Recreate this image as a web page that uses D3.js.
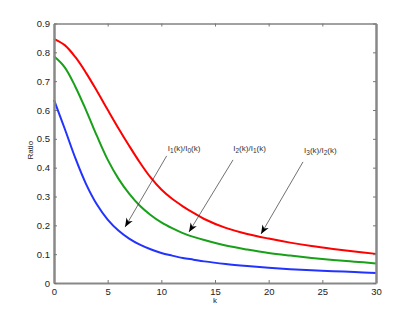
<!DOCTYPE html>
<html>
<head>
<meta charset="utf-8">
<script src="https://cdn.jsdelivr.net/npm/d3@7"></script>
<style>
  body { margin: 0; background: #fff; }
  text { font-family: "Liberation Sans", Arial, sans-serif; }
</style>
</head>
<body>
<div id="chart"></div>
<script>
const MARGIN = { TOP: 23.5, RIGHT: 39, BOTTOM: 36, LEFT: 54 };
const WIDTH = 415;
const HEIGHT = 319;

// values
var kValues = [0, 1, 2, 3, 4, 5, 6, 7, 8, 9, 10, 11, 12, 13, 14, 16, 18, 20, 22, 24, 26, 28, 30];
var ratio10 = [0.635, 0.535, 0.432, 0.342, 0.272, 0.220, 0.182, 0.154, 0.133, 0.117, 0.104, 0.095, 0.087, 0.081, 0.075, 0.066, 0.059, 0.053, 0.048, 0.044, 0.041, 0.038, 0.035];
var ratio21 = [0.786, 0.748, 0.680, 0.598, 0.510, 0.428, 0.362, 0.310, 0.268, 0.236, 0.210, 0.190, 0.173, 0.160, 0.149, 0.130, 0.116, 0.104, 0.095, 0.087, 0.080, 0.074, 0.068];
var ratio32 = [0.847, 0.825, 0.783, 0.728, 0.666, 0.601, 0.537, 0.476, 0.418, 0.366, 0.324, 0.292, 0.266, 0.243, 0.222, 0.191, 0.170, 0.154, 0.140, 0.128, 0.118, 0.109, 0.101];

var xTicks = [0, 5, 10, 15, 20, 25, 30];
var yTicks = [0, 0.1, 0.2, 0.3, 0.4, 0.5, 0.6, 0.7, 0.8, 0.9];

// annotations, in data units: text position and arrow from / to
var notes = [
  { num: "1", den: "0", tx: 10.6, ty: 0.458, x0: 10.5, y0: 0.441, x1: 6.62, y1: 0.194 },
  { num: "2", den: "1", tx: 16.7, ty: 0.458, x0: 16.68, y0: 0.427, x1: 12.58, y1: 0.177 },
  { num: "3", den: "2", tx: 23.3, ty: 0.451, x0: 23.2, y0: 0.420, x1: 19.29, y1: 0.170 }
];

var svg = d3.select("div#chart").append("svg")
    .attr("width", WIDTH)
    .attr("height", HEIGHT);

var x = d3.scaleLinear([0, 30], [MARGIN.LEFT, WIDTH - MARGIN.RIGHT]);
var y = d3.scaleLinear([0, 0.9], [HEIGHT - MARGIN.BOTTOM, MARGIN.TOP]);

svg.append("defs").append("marker")
    .attr("id", "head")
    .attr("viewBox", "0 0 10 10")
    .attr("refX", 10).attr("refY", 5)
    .attr("markerWidth", 9).attr("markerHeight", 9)
    .attr("markerUnits", "userSpaceOnUse")
    .attr("orient", "auto")
  .append("path")
    .attr("d", "M0,1 L10,5 L0,9 L3,5 Z")
    .attr("fill", "#000");

// curves
const lineFunc = d3.line()
    .x(d => x(d[0]))
    .y(d => y(d[1]))
    .curve(d3.curveCatmullRom.alpha(0.5));

var series = [
  { name: "r10", values: ratio10, color: "#2233ff" },
  { name: "r21", values: ratio21, color: "#18a018" },
  { name: "r32", values: ratio32, color: "#ff0000" }
];

svg.append("g")
    .attr("fill", "none")
    .attr("stroke-width", 2)
  .selectAll("path")
  .data(series)
  .join("path")
    .attr("stroke", d => d.color)
    .attr("d", d => lineFunc(kValues.map((k, i) => [k, d.values[i]])));

// axes, MATLAB style box with inward ticks
function styleAxis(g, color, width) {
  g.select(".domain").attr("stroke", color).attr("stroke-width", width);
  g.selectAll(".tick line").attr("stroke", "#777");
  g.selectAll(".tick text").attr("fill", "#222").style("font-size", "9.5px");
}

svg.append("g")
    .attr("transform", `translate(0,${HEIGHT - MARGIN.BOTTOM})`)
    .call(d3.axisBottom(x).tickValues(xTicks).tickSizeInner(-3).tickSizeOuter(0).tickPadding(5))
    .call(g => styleAxis(g, "#888", 2));

svg.append("g")
    .attr("transform", `translate(0,${MARGIN.TOP})`)
    .call(d3.axisTop(x).tickValues(xTicks).tickSizeInner(-3).tickSizeOuter(0).tickFormat(""))
    .call(g => styleAxis(g, "#444", 1));

svg.append("g")
    .attr("transform", `translate(${MARGIN.LEFT},0)`)
    .call(d3.axisLeft(y).tickValues(yTicks).tickSizeInner(-3).tickSizeOuter(0).tickPadding(4).tickFormat(d => d === 0 ? "0" : d3.format(".1f")(d)))
    .call(g => styleAxis(g, "#888", 2.5));

svg.append("g")
    .attr("transform", `translate(${WIDTH - MARGIN.RIGHT},0)`)
    .call(d3.axisRight(y).tickValues(yTicks).tickSizeInner(-3).tickSizeOuter(0).tickFormat(""))
    .call(g => styleAxis(g, "#888", 2.5));

svg.selectAll(".domain").attr("fill", "none");

// axis titles
svg.append("text")
    .attr("x", (x(0) + x(30)) / 2)
    .attr("y", 303)
    .attr("text-anchor", "middle")
    .style("font-size", "8px")
    .attr("fill", "#222")
    .text("k");

svg.append("text")
    .attr("transform", `translate(33,${(y(0) + y(0.9)) / 2 - 3}) rotate(-90)`)
    .attr("text-anchor", "middle")
    .style("font-size", "8px")
    .attr("fill", "#222")
    .text("Ratio");

// annotations
var ann = svg.append("g");

ann.selectAll("line")
  .data(notes)
  .join("line")
    .attr("x1", d => x(d.x0)).attr("y1", d => y(d.y0))
    .attr("x2", d => x(d.x1)).attr("y2", d => y(d.y1))
    .attr("stroke", "#333")
    .attr("stroke-width", 0.7)
    .attr("marker-end", "url(#head)");

var labels = ann.selectAll("text")
  .data(notes)
  .join("text")
    .attr("x", d => x(d.tx))
    .attr("y", d => y(d.ty))
    .style("font-size", "8px")
    .attr("fill", "#333");

labels.each(function(d) {
  var t = d3.select(this);
  t.append("tspan").text("I");
  t.append("tspan").attr("dy", 2.5).style("font-size", "6.5px").text(d.num);
  t.append("tspan").attr("dy", -2.5).text("(k)/I");
  t.append("tspan").attr("dy", 2.5).style("font-size", "6.5px").text(d.den);
  t.append("tspan").attr("dy", -2.5).text("(k)");
});
</script>
</body>
</html>
